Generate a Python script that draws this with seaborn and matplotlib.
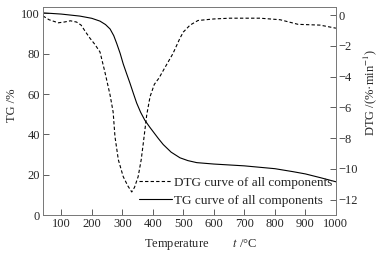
import pandas as pd
import matplotlib
matplotlib.use('Agg')
import matplotlib.pyplot as plt
import seaborn as sns

# TG curve (left axis, %)
tg_temp = [40, 100, 161, 200, 227, 245, 260, 272, 282, 293, 303, 314, 325, 336, 347,
           360, 374, 390, 402, 418, 434, 460, 489, 515, 544, 600, 700, 800, 860, 900, 950, 1000]
tg_mass = [100.3, 99.7, 98.7, 97.6, 96.2, 94.5, 92.3, 89, 85, 80.2, 75, 70.2, 65.5, 60.5, 55.6,
           51, 47, 43.6, 41.2, 38, 35, 31.2, 28.4, 27, 26, 25.3, 24.4, 23, 21.5, 20.4, 18.5, 16.5]

# DTG curve (right axis, %/min)
dtg_temp = [40, 60, 90, 110, 130, 150, 165, 180, 194, 210, 227, 243, 260, 270, 276, 287, 303,
            318, 331, 340, 352, 362, 369, 380, 391, 405, 420, 440, 466, 489, 500, 522, 548,
            600, 653, 751, 817, 876, 948, 1000]
dtg_rate = [-0.05, -0.3, -0.5, -0.45, -0.37, -0.45, -0.65, -1.1, -1.5, -1.9, -2.4, -3.7, -5.2, -6.3, -7.9,
            -9.4, -10.5, -11.1, -11.5, -11.2, -10.5, -9.4, -8.3, -6.5, -5.3, -4.5, -4.1, -3.4, -2.5, -1.5,
            -1.1, -0.65, -0.35, -0.25, -0.2, -0.2, -0.3, -0.6, -0.65, -0.85]

sns.set_style('ticks')
plt.rcParams['font.family'] = ['Liberation Serif', 'DejaVu Serif']
plt.rcParams['mathtext.fontset'] = 'stix'
plt.rcParams['font.size'] = 9

fig = plt.figure(figsize=(3.8, 2.56), dpi=100)
ax = fig.add_axes([0.113, 0.16, 0.771, 0.811])
ax2 = ax.twinx()

tg = pd.DataFrame({'T': tg_temp, 'v': tg_mass})
dtg = pd.DataFrame({'T': dtg_temp, 'v': dtg_rate})

sns.lineplot(x='T', y='v', data=dtg, ax=ax2, color='black', lw=0.8,
             linestyle=(0, (3, 2)), label='DTG curve of all components', legend=False)
sns.lineplot(x='T', y='v', data=tg, ax=ax, color='black', lw=0.8,
             label='TG curve of all components', legend=False)

ax.set_xlim(40, 1000)
ax.set_ylim(0, 103)
ax2.set_ylim(-13, 0.5)
ax.set_xticks(range(100, 1001, 100))
ax.set_yticks(range(0, 101, 20))
ax2.set_yticks(range(-12, 1, 2))

ax.set_xlabel('Temperature        $t$ /°C', va='center')
ax.set_ylabel('TG /%', va='center', ha='center')
ax2.set_ylabel('DTG /(%·min$^{-1}$)', va='center', ha='center', rotation=90)
ax.xaxis.set_label_coords(0.54, -0.14)
ax.yaxis.set_label_coords(-0.105, 0.53)
ax2.yaxis.set_label_coords(1.116, 0.59)

for a in (ax, ax2):
    a.tick_params(direction='in', length=4, width=0.6, color='#444444', pad=2,
                  labelsize=9)
    for s in a.spines.values():
        s.set_linewidth(0.6)
        s.set_color('#777777')

h1, l1 = ax2.get_legend_handles_labels()
h2, l2 = ax.get_legend_handles_labels()
ax.legend(h1 + h2, l1 + l2, loc='lower right', bbox_to_anchor=(1.0, 0.02),
          frameon=False, handlelength=2.5, handletextpad=0.15, labelspacing=0.45,
          borderpad=0.2, borderaxespad=0.1, fontsize=9.5)

plt.savefig('out.png', dpi=100)
plt.close()
